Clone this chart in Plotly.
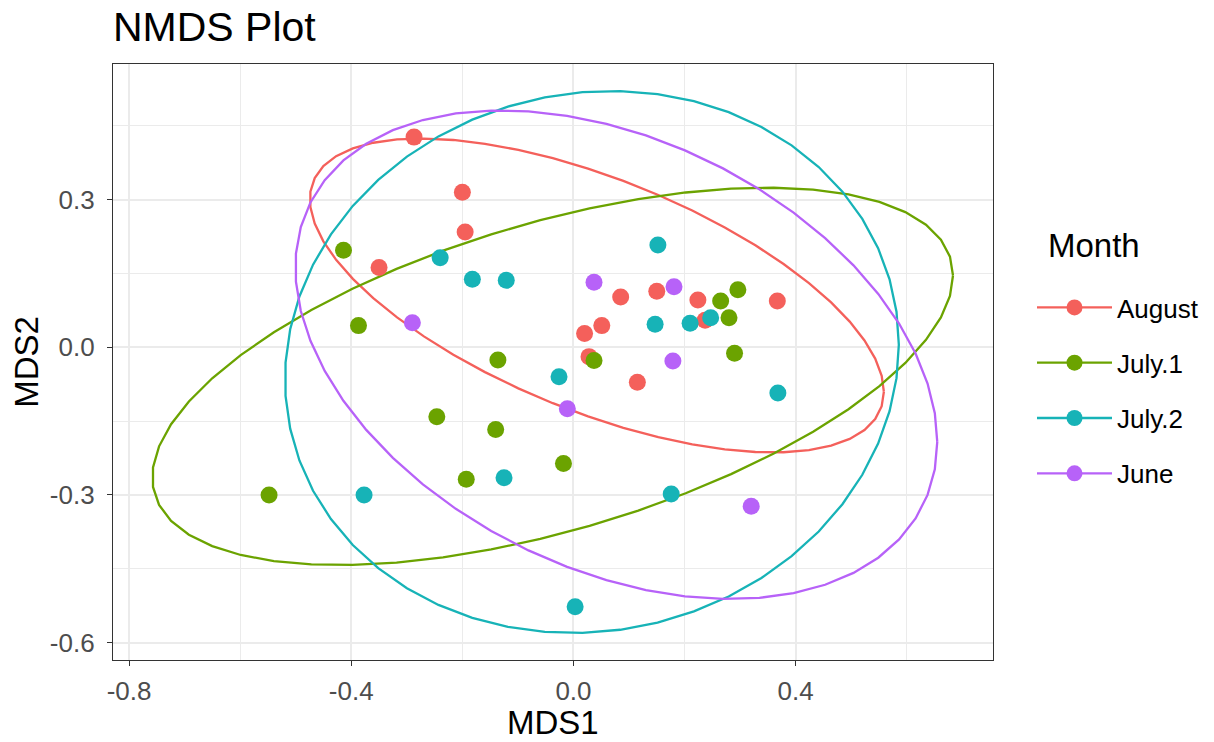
import numpy as np
import plotly.graph_objects as go

# NMDS site scores grouped by sampling month
months = ["August", "July.1", "July.2", "June"]
colors = ["#F4605B", "#6BA300", "#17B3B7", "#B762F8"]

august_mds1 = [-0.287, -0.200, -0.195, -0.350, 0.085, 0.150, 0.224, 0.367, 0.237, 0.051, 0.020, 0.028, 0.115]
august_mds2 = [0.427, 0.315, 0.234, 0.162, 0.102, 0.114, 0.096, 0.094, 0.055, 0.044, 0.028, -0.019, -0.071]

july1_mds1 = [-0.414, -0.387, -0.548, -0.246, -0.140, -0.193, -0.136, -0.018, 0.037, 0.265, 0.296, 0.280, 0.290]
july1_mds2 = [0.197, 0.044, -0.300, -0.141, -0.167, -0.268, -0.026, -0.236, -0.027, 0.094, 0.117, 0.060, -0.012]

july2_mds1 = [-0.240, -0.182, -0.121, 0.152, 0.147, 0.210, 0.247, -0.026, 0.368, -0.377, -0.125, 0.176, 0.003]
july2_mds2 = [0.182, 0.138, 0.136, 0.208, 0.047, 0.049, 0.060, -0.060, -0.093, -0.300, -0.265, -0.298, -0.527]

june_mds1 = [0.037, 0.181, -0.290, 0.179, -0.011, 0.320]
june_mds2 = [0.132, 0.123, 0.050, -0.028, -0.125, -0.323]

# axis breaks
x_ticks = [-0.8, -0.4, 0.0, 0.4]
y_ticks = [-0.6, -0.3, 0.0, 0.3]

groups = [
    (august_mds1, august_mds2),
    (july1_mds1, july1_mds2),
    (july2_mds1, july2_mds2),
    (june_mds1, june_mds2),
]

FONT = "Liberation Sans, Arial, sans-serif"


def cov_trob(X, nu=5, maxit=25, tol=0.01):
    """Multivariate t robust location / scatter (as MASS::cov.trob)."""
    n, p = X.shape
    wt = np.ones(n)
    loc = (wt[:, None] * X).sum(0) / wt.sum()
    w = np.sqrt(wt)
    Xc = X - loc
    for _ in range(maxit):
        w0 = w
        Xc = X - loc
        _, d, vt = np.linalg.svd(np.sqrt(w / w.sum())[:, None] * Xc, full_matrices=False)
        wX = Xc @ vt.T @ np.diag(1.0 / d)
        Q = (wX ** 2).sum(1)
        w = wt * (nu + p) / (nu + Q)
        loc = (w[:, None] * X).sum(0) / w.sum()
        if np.all(np.abs(w - w0) < tol):
            break
    sw = np.sqrt(w)[:, None] * Xc
    cov = sw.T @ sw / wt.sum()
    return cov, loc


def t_ellipse(x, y, level=0.95, segments=51):
    X = np.column_stack([x, y]).astype(float)
    n = X.shape[0]
    dfn, dfd = 2, n - 1
    cov, center = cov_trob(X)
    chol_upper = np.linalg.cholesky(cov).T
    # F quantile with 2 numerator degrees of freedom has a closed form
    qf = dfd / 2.0 * ((1 - level) ** (-2.0 / dfd) - 1)
    radius = np.sqrt(dfn * qf)
    ang = np.arange(segments + 1) * 2 * np.pi / segments
    circle = np.column_stack([np.cos(ang), np.sin(ang)])
    ell = center + radius * (circle @ chol_upper)
    return ell[:, 0], ell[:, 1]


fig = go.Figure()
all_x, all_y = [], []

for name, col, (gx, gy) in zip(months, colors, groups):
    ex, ey = t_ellipse(gx, gy)
    all_x += list(ex) + list(gx)
    all_y += list(ey) + list(gy)
    fig.add_trace(go.Scatter(x=ex, y=ey, mode="lines", line=dict(color=col, width=2.3),
                             showlegend=False, hoverinfo="skip"))

for name, col, (gx, gy) in zip(months, colors, groups):
    fig.add_trace(go.Scatter(x=gx, y=gy, mode="markers", name=name,
                             marker=dict(color=col, size=17, line=dict(width=0)),
                             showlegend=False))

# legend keys: point over line
for name, col in zip(months, colors):
    fig.add_trace(go.Scatter(x=[None], y=[None], mode="lines+markers", name=name,
                             legendgroup=name,
                             line=dict(color=col, width=2.3),
                             marker=dict(color=col, size=17)))


def expanded(vals, mult=0.05):
    lo, hi = min(vals), max(vals)
    pad = (hi - lo) * mult
    return [lo - pad, hi + pad]


def labels(vals):
    return ["%.1f" % v for v in vals]


tick_font = dict(family=FONT, size=26, color="#4D4D4D")
title_font = dict(family=FONT, size=33, color="black")

axis_common = dict(
    showgrid=True, gridcolor="#EBEBEB", gridwidth=1.7,
    zeroline=False, showline=True, mirror=True, linecolor="#333333", linewidth=1.3,
    ticks="outside", ticklen=5, tickwidth=1.3, tickcolor="#333333",
    tickfont=tick_font, tickmode="array", automargin=False,
)

fig.update_layout(
    width=1214, height=742,
    paper_bgcolor="white", plot_bgcolor="white",
    margin=dict(l=113, r=221, t=64, b=82, autoexpand=False),
    title=dict(text="NMDS Plot", x=113 / 1214, xanchor="left", xref="container",
               y=1 - 27 / 742, yanchor="middle", yref="container",
               font=dict(family=FONT, size=41, color="black"), automargin=False),
    xaxis=dict(axis_common, range=expanded(all_x),
               tickvals=x_ticks, ticktext=labels(x_ticks), ticklabelstandoff=3,
               minor=dict(showgrid=True, gridcolor="#EBEBEB", gridwidth=0.9, dtick=0.2, tick0=-0.8, ticklen=0)),
    yaxis=dict(axis_common, range=expanded(all_y),
               tickvals=y_ticks, ticktext=labels(y_ticks), ticklabelstandoff=7,
               minor=dict(showgrid=True, gridcolor="#EBEBEB", gridwidth=0.9, dtick=0.15, tick0=-0.6, ticklen=0),
               title=dict(text="MDS2", font=title_font, standoff=1)),
    legend=dict(
        font=dict(family=FONT, size=26, color="black"),
        x=(1032 - 113) / 880, xanchor="left", y=(660 - 284) / 596, yanchor="top",
        tracegroupgap=18.5, itemwidth=75,
        bgcolor="rgba(0,0,0,0)",
    ),
    annotations=[
        dict(text="Month", xref="paper", yref="paper",
             x=(1046 - 113) / 880, xanchor="left",
             y=(660 - 246) / 596, yanchor="middle",
             showarrow=False, font=dict(family=FONT, size=33, color="black")),
        dict(text="MDS1", xref="paper", yref="paper",
             x=0.5, xanchor="center",
             y=(660 - 722) / 596, yanchor="middle",
             showarrow=False, font=title_font),
    ],
)

fig.write_html("out.html")
